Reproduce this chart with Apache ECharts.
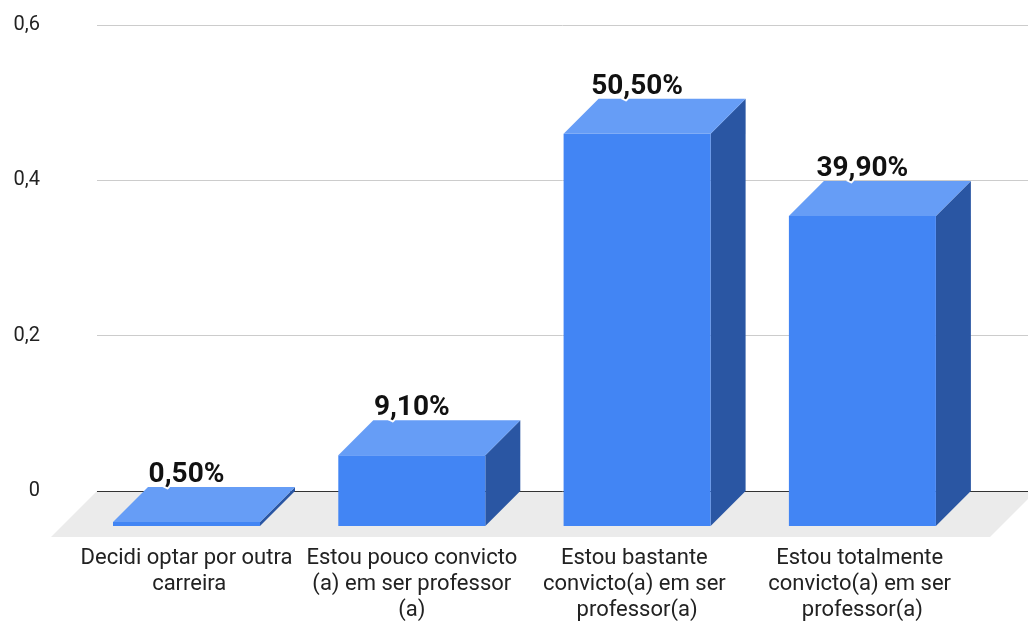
<!DOCTYPE html>
<html>
<head>
<meta charset="utf-8">
<script src="https://cdn.jsdelivr.net/npm/echarts@6/dist/echarts.min.js"></script>
<style>
html,body{margin:0;padding:0;background:#fff;}
#chart{width:1028px;height:624px;}
</style>
</head>
<body>
<div id="chart"></div>
<script>
const categories = [
  'Decidi optar por outra carreira',
  'Estou pouco convicto (a) em ser professor (a)',
  'Estou bastante convicto(a) em ser professor(a)',
  'Estou totalmente convicto(a) em ser professor(a)'
];
const values = [0.005, 0.091, 0.505, 0.399];
const yTicks = [0, 0.2, 0.4, 0.6];

const FONT = 'Roboto, "Liberation Sans", Arial, sans-serif';
const DEPTH = 35;
const BAR_W = 147;
const FLOOR_D = 46;

function pct(v) { return (v * 100).toFixed(2).replace('.', ',') + '%'; }

const chart = echarts.init(document.getElementById('chart'), null, { renderer: 'canvas' });

const option = {
  animation: false,
  backgroundColor: '#ffffff',
  grid: { left: 97, right: 0, top: 25, bottom: 133, containLabel: false },
  xAxis: {
    type: 'value', min: -0.5526, max: 3.5797, show: false
  },
  yAxis: {
    type: 'value',
    min: yTicks[0], max: yTicks[yTicks.length - 1], interval: 0.2,
    axisLine: { show: false }, axisTick: { show: false },
    axisLabel: {
      margin: 57, fontSize: 20, color: '#222', fontFamily: FONT,
      formatter: v => String(+v.toFixed(2)).replace('.', ',')
    },
    splitLine: { lineStyle: { color: '#cccccc', width: 1 } }
  },
  series: [
    {
      type: 'custom',
      z: 1,
      silent: true,
      data: [[0, 0]],
      renderItem: function (params, api) {
        const cs = params.coordSys;
        const y0 = api.coord([0, 0])[1];
        const x0 = cs.x, x1 = cs.x + cs.width + 8;
        return {
          type: 'group',
          children: [
            {
              type: 'polygon',
              shape: { points: [[x0, y0], [x1, y0], [x1 - FLOOR_D, y0 + FLOOR_D], [x0 - FLOOR_D, y0 + FLOOR_D]] },
              style: { fill: '#ebebeb' }
            },
            {
              type: 'line',
              shape: { x1: x0, y1: y0 + 0.5, x2: cs.x + cs.width, y2: y0 + 0.5 },
              style: { stroke: '#333333', lineWidth: 1 }
            }
          ]
        };
      }
    },
    {
      type: 'custom',
      z: 2,
      data: values.map((v, i) => [i, v]),
      renderItem: function (params, api) {
        const i = api.value(0);
        const v = api.value(1);
        const top = api.coord([i, v]);
        const base = api.coord([i, 0]);
        const cx = top[0] - DEPTH;
        const fl = cx - BAR_W / 2, fr = cx + BAR_W / 2;
        const vy = top[1], y0 = base[1];
        return {
          type: 'group',
          children: [
            {
              type: 'polygon',
              shape: { points: [[fr, vy + DEPTH], [fr + DEPTH, vy], [fr + DEPTH, y0], [fr, y0 + DEPTH]] },
              style: { fill: '#2a56a3' }
            },
            {
              type: 'rect',
              shape: { x: fl, y: vy + DEPTH, width: BAR_W, height: y0 - vy },
              style: { fill: '#4285f4' }
            },
            {
              type: 'polygon',
              shape: { points: [[fl, vy + DEPTH], [fr, vy + DEPTH], [fr + DEPTH, vy], [fl + DEPTH, vy]] },
              style: { fill: '#669df6' }
            },
            {
              type: 'text',
              style: {
                x: cx, y: vy - 12, text: pct(v),
                align: 'center', verticalAlign: 'middle',
                font: 'bold 28px ' + FONT, fill: '#111',
                stroke: '#fff', lineWidth: 4
              }
            },
            {
              type: 'text',
              style: {
                x: cx, y: y0 + 54, text: categories[i],
                align: 'center', verticalAlign: 'top',
                font: '22px ' + FONT, fill: '#222',
                width: 216, overflow: 'break', lineHeight: 26
              }
            }
          ]
        };
      }
    }
  ]
};
chart.setOption(option);
</script>
</body>
</html>
